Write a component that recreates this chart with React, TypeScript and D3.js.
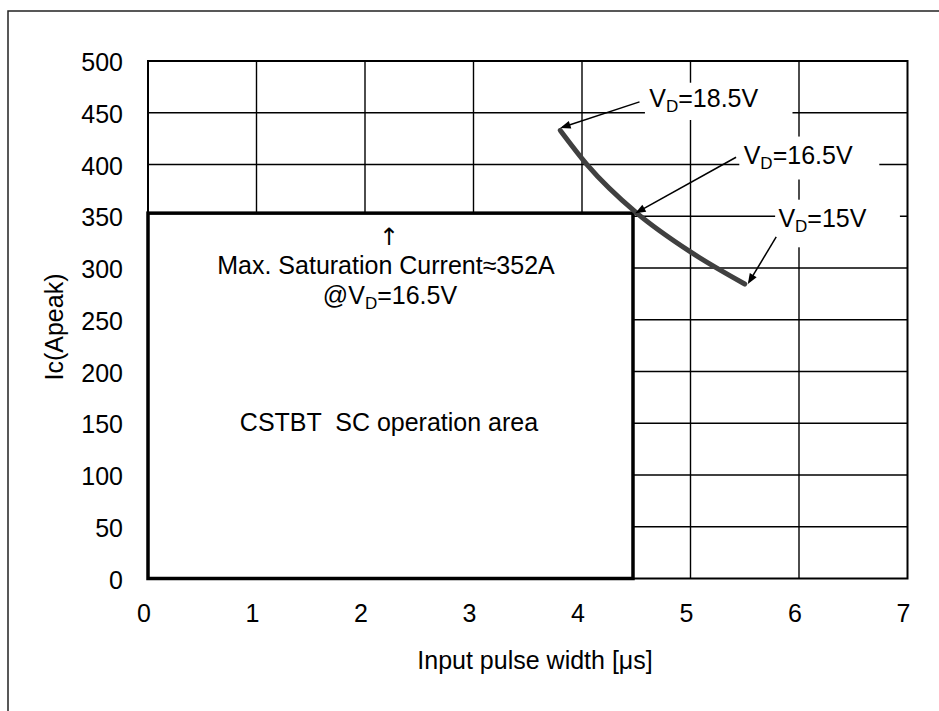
import React from "react";
import * as d3 from "d3";

const xTicks = [0, 1, 2, 3, 4, 5, 6, 7];
const yTicks = [0, 50, 100, 150, 200, 250, 300, 350, 400, 450, 500];
const curveX = [3.8, 4.05, 4.5, 5.0, 5.5];
const curveY = [433, 399.5, 353.5, 315.5, 284.5];
const areaMaxX = 4.47;
const areaMaxY = 353;

// annotations: label text (subscript D), label anchor, arrow tail, arrow tip (data units)
const annLabels = ["18.5V", "16.5V", "15V"];
const annTextX = [4.62, 5.49, 5.81];
const annTextY = [455.5, 400.5, 339.5];
const annBoxX0 = [4.58, 5.45, 5.78];
const annBoxX1 = [5.94, 6.74, 6.93];
const annBoxY0 = [479, 427, 366];
const annBoxY1 = [443, 385.5, 320];
const annTailX = [4.53, 5.42, 5.79];
const annTailY = [460.5, 407, 330];
const annTipX = [3.82, 4.51, 5.54];
const annTipY = [436, 354, 286.5];

const FONT = "'Liberation Sans', Arial, sans-serif";
const FS = 25;

export default function App() {
  const x = d3.scaleLinear().domain([0, 7]).range([148, 907.5]);
  const y = d3.scaleLinear().domain([0, 500]).range([578.5, 61]);
  const line = d3
    .line<number>()
    .x((_, i) => x(curveX[i]))
    .y((_, i) => y(curveY[i]))
    .curve(d3.curveMonotoneX);

  return (
    <div style={{ position: "absolute", left: 0, top: 0 }}>
      <svg width={939} height={711} style={{ display: "block", fontFamily: FONT }}>
        <defs>
          <marker id="ah" viewBox="0 0 10 10" refX="10" refY="5" markerWidth="10" markerHeight="8" markerUnits="userSpaceOnUse" orient="auto" overflow="visible">
            <path d="M0,0 L10,5 L0,10 z" fill="#000" transform="scale(1.3,1)" />
          </marker>
        </defs>
        <rect x={0} y={0} width={939} height={711} fill="#fff" />
        <rect x={8} y={11} width={1000} height={800} fill="none" stroke="#222" strokeWidth={1.5} />
        {/* grid */}
        {xTicks.slice(1, -1).map((t) => (
          <line key={"gx" + t} x1={x(t)} x2={x(t)} y1={y(0)} y2={y(500)} stroke="#000" strokeWidth={1.4} />
        ))}
        {yTicks.slice(1, -1).map((t) => (
          <line key={"gy" + t} x1={x(0)} x2={x(7)} y1={y(t)} y2={y(t)} stroke="#000" strokeWidth={1.4} />
        ))}
        {/* label background boxes */}
        {annLabels.map((l, i) => (
          <rect key={"b" + i} x={x(annBoxX0[i])} y={y(annBoxY0[i])} width={x(annBoxX1[i]) - x(annBoxX0[i])} height={y(annBoxY1[i]) - y(annBoxY0[i])} fill="#fff" />
        ))}
        {/* plot border */}
        <rect x={x(0)} y={y(500)} width={x(7) - x(0)} height={y(0) - y(500)} fill="none" stroke="#000" strokeWidth={2} />
        {/* SC operation area */}
        <rect x={x(0)} y={y(areaMaxY)} width={x(areaMaxX) - x(0)} height={y(0) - y(areaMaxY)} fill="#fff" stroke="#000" strokeWidth={3.5} />
        {/* curve */}
        <path d={line(curveX) || ""} fill="none" stroke="#404040" strokeWidth={5} strokeLinecap="round" />
        {/* arrows */}
        {annLabels.map((l, i) => (
          <line key={"a" + i} x1={x(annTailX[i])} y1={y(annTailY[i])} x2={x(annTipX[i])} y2={y(annTipY[i])} stroke="#000" strokeWidth={1.5} markerEnd="url(#ah)" />
        ))}
        {annLabels.map((l, i) => (
          <text key={"t" + i} x={x(annTextX[i])} y={y(annTextY[i])} fontSize={FS} fill="#000">
            V<tspan fontSize={17} dy={5}>D</tspan>
            <tspan dy={-5}>={l}</tspan>
          </text>
        ))}
        {/* tick labels */}
        {yTicks.map((t) => (
          <text key={"yl" + t} x={123} y={y(t) + 1} fontSize={FS} textAnchor="end" dominantBaseline="central">
            {t}
          </text>
        ))}
        {xTicks.map((t) => (
          <text key={"xl" + t} x={x(t) - 4} y={622} fontSize={FS} textAnchor="middle">
            {t}
          </text>
        ))}
        <text x={535} y={669} fontSize={FS} textAnchor="middle">
          Input pulse width [μs]
        </text>
        <text transform="translate(63,327) rotate(-90)" fontSize={FS} textAnchor="middle">
          Ic(Apeak)
        </text>
        {/* inner annotations */}
        <text x={389} y={245} fontSize={24} textAnchor="middle" fill="#000" style={{ fontFamily: "'DejaVu Sans', sans-serif" }}>↑</text>
        <text x={386} y={274} fontSize={FS} textAnchor="middle">Max. Saturation Current≈352A</text>
        <text x={390} y={304} fontSize={FS} textAnchor="middle">
          @V<tspan fontSize={17} dy={5}>D</tspan>
          <tspan dy={-5}>=16.5V</tspan>
        </text>
        <text x={389} y={431} fontSize={FS} textAnchor="middle" style={{ whiteSpace: "pre" }}>
          {"CSTBT  SC operation area"}
        </text>
      </svg>
    </div>
  );
}
